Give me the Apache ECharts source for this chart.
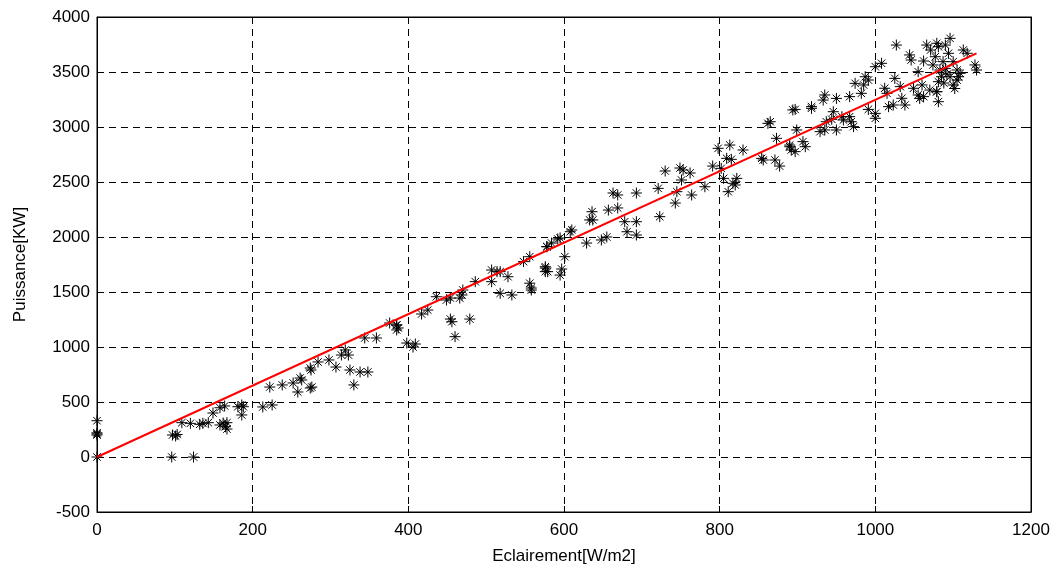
<!DOCTYPE html>
<html>
<head>
<meta charset="utf-8">
<script src="https://cdn.jsdelivr.net/npm/echarts@6/dist/echarts.min.js"></script>
<style>html,body{margin:0;padding:0;background:#fff}#c{width:1064px;height:573px}</style>
</head>
<body>
<div id="c"></div>
<script>
var xTitle = 'Eclairement[W/m2]';
var yTitle = 'Puissance[KW]';
var xTicks = [0, 200, 400, 600, 800, 1000, 1200];
var yTicks = [-500, 0, 500, 1000, 1500, 2000, 2500, 3000, 3500, 4000];

var irr = [0,0,0,0,0,96,124,97,101,103,109,120,132,136,143,149,158,164,158,162,165,167,167,181,186,188,186,
213,225,222,238,252,258,261,263,274,276,274,275,284,298,307,314,323,319,325,338,348,330,344,359,385,385,
376,385,387,398,409,406,417,425,436,449,454,466,469,470,454,456,460,479,486,507,514,518,507,518,533,528,548,556,556,558,558,576,576,578,
576,579,595,597,601,578,584,592,595,610,608,629,648,655,636,633,637,657,669,663,669,693,678,693,681,693,723,730,721,749,753,762,751,745,743,764,
781,791,798,813,809,815,830,802,805,811,817,822,820,854,856,871,877,862,865,873,890,892,897,890,899,907,910,897,918,929,935,937,944,950,933,935,950,
946,957,959,967,969,972,967,974,985,982,1000,1000,991,987,991,1000,1008,1027,1044,1046,1025,1012,1015,1032,1017,1023,1034,1038,
1055,1049,1060,1055,1057,1062,1070,1079,1081,1085,1083,1066,1079,1081,1090,1096,1094,1077,1074,1087,1090,1100,1105,1107,1113,1118,1128,1130,
1079,1081,1096,1100,1105,1109,894,918,1071,1092,1102,1088,1062];
var power = [0,200,210,220,330,0,0,200,191,205,312,306,297,306,312,400,448,464,291,309,275,312,254,457,473,457,382,
455,473,636,655,673,591,718,700,809,636,627,791,864,882,818,927,927,973,791,773,773,655,1082,1082,1200,1155,
1218,1200,1173,1036,1027,1000,1300,1336,1457,1427,1445,1445,1473,1518,1254,1230,1094,1254,1594,1700,1685,1685,1594,1488,1473,1639,1776,1821,1580,1536,1518,1730,1685,1912,
1718,1685,1654,1709,1821,1912,1945,1982,1991,2064,2048,1945,1973,2000,2230,2155,2155,2245,2264,2400,2382,2400,2139,2139,2048,2018,2185,2600,2442,2627,2609,2582,2518,2412,2309,2382,
2457,2645,2806,2836,2715,2706,2791,2624,2533,2412,2488,2533,2473,2715,2700,2700,2645,3033,3048,2897,2821,2791,2776,2836,2973,2867,2821,3160,3185,2958,2973,3048,3070,2973,3245,3291,3260,
3139,3094,3064,3094,3048,3003,3276,3397,3382,3306,3079,3124,3160,3457,3427,3548,3579,3745,3655,3609,3442,3352,3306,3367,3185,3200,3261,3200,
3503,3352,3382,3291,3260,3276,3336,3321,3412,3457,3518,3745,3761,3730,3745,3806,3670,3639,3564,3594,3533,3594,3518,3457,3700,3670,3564,3518,
3321,3230,3457,3382,3427,3488,3155,3170,3700,3480,3350,3400,3600];

var fitX = [0, 1130];
var fitY = [0, 3670];

var pts = irr.map(function (x, i) { return [x, power[i]]; });
var fit = fitX.map(function (x, i) { return [x, fitY[i]]; });

var star = 'path://M0,5L10,5M5,0L5,10M1.6,1.6L8.4,8.4M8.4,1.6L1.6,8.4';
var lblFont = { color: '#000', fontSize: 17, fontFamily: 'Liberation Sans, Arial, sans-serif' };
var plain = function (v) { return String(v); };

var chart = echarts.init(document.getElementById('c'));
chart.setOption({
  animation: false,
  backgroundColor: '#fff',
  grid: { left: 97, right: 33, top: 17, bottom: 61, show: true, borderColor: '#000', borderWidth: 1, backgroundColor: 'transparent' },
  xAxis: [{
    type: 'value', min: xTicks[0], max: xTicks[xTicks.length - 1], interval: 200,
    name: xTitle, nameLocation: 'middle', nameGap: 36,
    nameTextStyle: lblFont,
    axisLine: { show: true, onZero: false, lineStyle: { color: '#000', width: 1 } },
    axisTick: { show: true, inside: true, length: 6, lineStyle: { color: '#000' } },
    axisLabel: Object.assign({ margin: 10, formatter: plain }, lblFont),
    splitLine: { show: true, lineStyle: { color: '#000', type: [7, 5], width: 1 } }
  }, {
    type: 'value', position: 'top', min: xTicks[0], max: xTicks[xTicks.length - 1], interval: 200,
    axisLine: { show: true, onZero: false, lineStyle: { color: '#000' } },
    axisTick: { show: true, inside: true, length: 6, lineStyle: { color: '#000' } },
    axisLabel: { show: false }, splitLine: { show: false }
  }],
  yAxis: [{
    type: 'value', min: yTicks[0], max: yTicks[yTicks.length - 1], interval: 500,
    name: yTitle, nameLocation: 'middle', nameGap: 68, nameRotate: 90,
    nameTextStyle: lblFont,
    axisLine: { show: true, onZero: false, lineStyle: { color: '#000', width: 1 } },
    axisTick: { show: true, inside: true, length: 6, lineStyle: { color: '#000' } },
    axisLabel: Object.assign({ margin: 7, formatter: plain }, lblFont),
    splitLine: { show: true, lineStyle: { color: '#000', type: [7, 5], width: 1 } }
  }, {
    type: 'value', position: 'right', min: yTicks[0], max: yTicks[yTicks.length - 1], interval: 500,
    axisLine: { show: true, onZero: false, lineStyle: { color: '#000' } },
    axisTick: { show: true, inside: true, length: 6, lineStyle: { color: '#000' } },
    axisLabel: { show: false }, splitLine: { show: false }
  }],
  series: [{
    type: 'scatter', data: pts, symbol: star, symbolSize: 11,
    itemStyle: { color: 'none', borderColor: '#000', borderWidth: 1, opacity: 1 },
    z: 3
  }, {
    type: 'line', data: fit, showSymbol: false, symbol: 'none',
    lineStyle: { color: '#ff0000', width: 2 }, z: 4
  }]
});
</script>
</body>
</html>
